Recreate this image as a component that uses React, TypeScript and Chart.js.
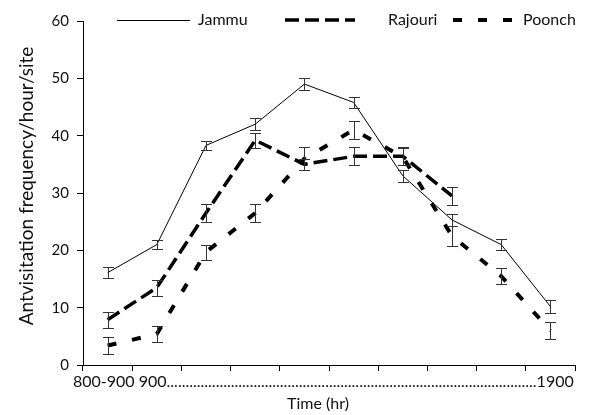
import React, { useEffect, useRef } from "react";
import { Chart, registerables } from "chart.js";

Chart.register(...registerables);

// ---- data ----
const categories = [
  "800-900", "900-1000", "1000-1100", "1100-1200", "1200-1300",
  "1300-1400", "1400-1500", "1500-1600", "1600-1700", "1700-1800",
];
const jammu = [16.1, 21.0, 38.3, 42.0, 49.0, 45.8, 33.0, 25.3, 21.0, 10.2];
const jammuErr = [1.0, 0.8, 0.8, 1.0, 1.0, 1.0, 1.0, 1.0, 0.9, 1.2];
const rajouri = [7.9, 13.5, 26.5, 39.2, 35.0, 36.4, 36.4, 29.5, null, null];
const rajouriErr = [1.4, 1.4, 1.5, 1.3, 1.0, 1.6, 1.6, 1.6, null, null];
const poonch = [3.4, 5.4, 19.7, 26.5, 36.0, 41.0, 36.3, 22.5, 15.5, 6.0];
const poonchErr = [1.4, 1.4, 1.3, 1.5, 2.0, 1.6, 1.5, 1.7, 1.4, 1.5];
const seriesNames = ["Jammu", "Rajouri", "Poonch"];
const yMin = 0;
const yMax = 60;
const yStep = 10;
const xTickStart = "800-900 900";
const xTickEnd = "1900";
const xTitle = "Time (hr)";
const yTitle = "Antvisitation frequency/hour/site";

const FONT = "Lato";

const errorBarPlugin = {
  id: "errorBars",
  afterDatasetsDraw(chart: any) {
    const { ctx } = chart;
    const yScale = chart.scales.y;
    ctx.save();
    ctx.strokeStyle = "#333";
    ctx.lineWidth = 1;
    ctx.setLineDash([]);
    chart.data.datasets.forEach((ds: any, di: number) => {
      const meta = chart.getDatasetMeta(di);
      const errs = ds.errors || [];
      ds.data.forEach((v: any, i: number) => {
        const e = errs[i];
        if (v == null || e == null) return;
        const x = Math.round(meta.data[i].x) + 0.5;
        const yt = Math.round(yScale.getPixelForValue(v + e)) + 0.5;
        const yb = Math.round(yScale.getPixelForValue(v - e)) + 0.5;
        const hw = 5.5;
        ctx.beginPath();
        ctx.moveTo(x, yt);
        ctx.lineTo(x, yb);
        ctx.moveTo(x - hw, yt);
        ctx.lineTo(x + hw, yt);
        ctx.moveTo(x - hw, yb);
        ctx.lineTo(x + hw, yb);
        ctx.stroke();
      });
    });
    ctx.restore();
  },
};

const legendItems = [
  { lineFrom: 117, lineTo: 190, textX: 198 },
  { lineFrom: 285, lineTo: 355, textX: 388 },
  { lineFrom: 453, lineTo: 514, textX: 523 },
];

const customLegendPlugin = {
  id: "customLegend",
  afterDraw(chart: any) {
    const { ctx } = chart;
    const y = 20;
    ctx.save();
    chart.data.datasets.forEach((ds: any, i: number) => {
      const it = legendItems[i];
      ctx.beginPath();
      ctx.strokeStyle = ds.borderColor;
      ctx.lineWidth = ds.borderWidth;
      ctx.setLineDash(ds.borderDash || []);
      const yy = y + (ds.borderWidth === 1 ? 0.5 : 0);
      ctx.moveTo(it.lineFrom, yy);
      ctx.lineTo(it.lineTo, yy);
      ctx.stroke();
      ctx.setLineDash([]);
      ctx.fillStyle = "#111";
      ctx.font = `16px ${FONT}`;
      ctx.textBaseline = "middle";
      ctx.textAlign = "left";
      ctx.fillText(ds.label, it.textX, y);
    });
    ctx.restore();
  },
};

const axisTextPlugin = {
  id: "axisTexts",
  afterDraw(chart: any) {
    const { ctx, chartArea } = chart;
    ctx.save();
    ctx.fillStyle = "#111";
    ctx.textBaseline = "middle";
    // x tick row: start label, dotted run, end label
    ctx.font = `16px ${FONT}`;
    const left = chartArea.left - 10;
    const right = chartArea.right + 1;
    let row = xTickStart;
    const endW = ctx.measureText(xTickEnd).width;
    while (ctx.measureText(row + ".").width + endW <= right - left) row += ".";
    row += xTickEnd;
    ctx.textAlign = "left";
    ctx.fillText(row, left, chartArea.bottom + 17);
    // x title
    ctx.font = `16px ${FONT}`;
    ctx.textAlign = "center";
    ctx.fillText(xTitle, chartArea.left + 235, chartArea.bottom + 39);
    // y title
    ctx.font = `19px ${FONT}`;
    ctx.translate(27, 186);
    ctx.rotate(-Math.PI / 2);
    ctx.textAlign = "center";
    ctx.fillText(yTitle, 0, 0);
    ctx.restore();
  },
};

export default function App() {
  const ref = useRef<HTMLCanvasElement | null>(null);

  useEffect(() => {
    if (!ref.current) return;
    const chart = new Chart(ref.current, {
      type: "line",
      data: {
        labels: categories,
        datasets: [
          {
            label: seriesNames[0],
            data: jammu,
            errors: jammuErr,
            borderColor: "#000",
            borderWidth: 1,
            borderDash: [],
            pointRadius: 0,
            tension: 0,
            fill: false,
          } as any,
          {
            label: seriesNames[1],
            data: rajouri,
            errors: rajouriErr,
            borderColor: "#000",
            borderWidth: 3.5,
            borderDash: [14, 6],
            pointRadius: 0,
            tension: 0,
            fill: false,
          } as any,
          {
            label: seriesNames[2],
            data: poonch,
            errors: poonchErr,
            borderColor: "#000",
            borderWidth: 4,
            borderDash: [9, 16],
            pointRadius: 0,
            tension: 0,
            fill: false,
          } as any,
        ],
      },
      options: {
        responsive: false,
        animation: false,
        layout: { padding: { top: 21, right: 15, bottom: 0, left: 0 } },
        plugins: {
          legend: { display: false },
          tooltip: { enabled: false },
        },
        scales: {
          x: {
            type: "category",
            offset: true,
            grid: {
              offset: true,
              drawOnChartArea: false,
              drawTicks: true,
              tickLength: 6,
              color: "#000",
            },
            border: { display: true, color: "#000", width: 1 },
            ticks: { display: false },
            title: { display: false },
            afterFit(scale: any) {
              scale.height = 50;
            },
          },
          y: {
            min: yMin,
            max: yMax,
            grid: {
              drawOnChartArea: false,
              drawTicks: true,
              tickLength: 6,
              color: "#000",
            },
            border: { display: true, color: "#000", width: 1 },
            ticks: {
              stepSize: yStep,
              color: "#111",
              font: { family: FONT, size: 15 },
              padding: 8,
            },
            title: { display: false },
            afterFit(scale: any) {
              scale.width = 83;
            },
          },
        },
      },
      plugins: [errorBarPlugin, customLegendPlugin, axisTextPlugin],
    } as any);
    return () => chart.destroy();
  }, []);

  return (
    <div style={{ position: "fixed", left: 0, top: 0, width: 590, height: 415, background: "#fff" }}>
      <canvas ref={ref} width={590} height={415} />
    </div>
  );
}
